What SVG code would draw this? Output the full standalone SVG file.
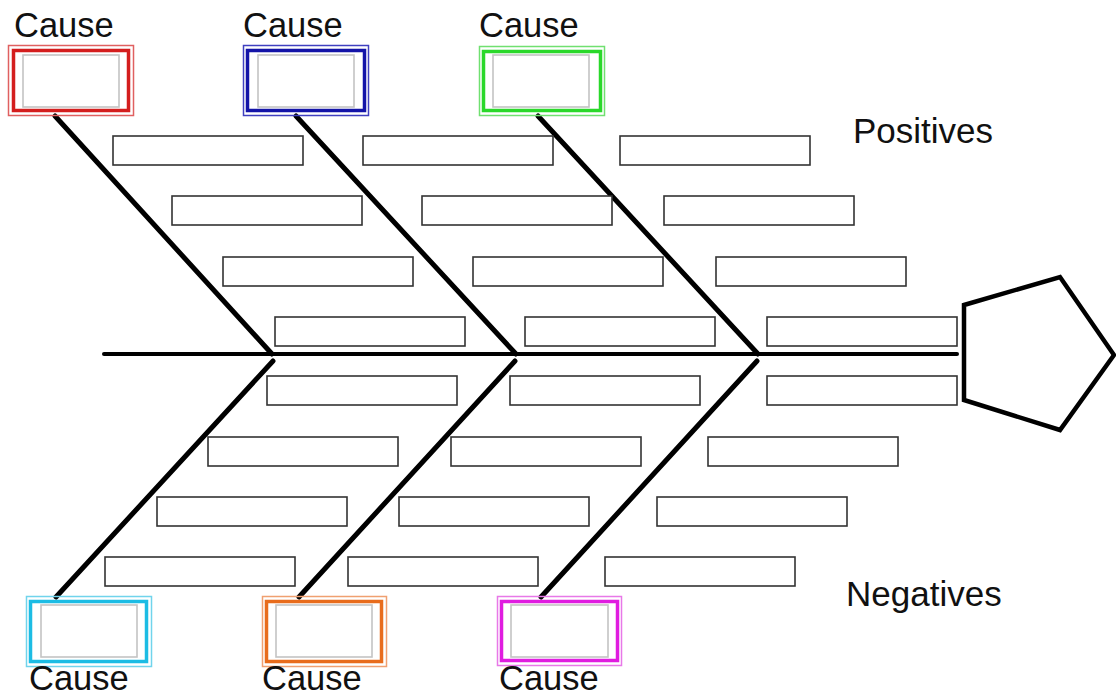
<svg xmlns="http://www.w3.org/2000/svg" width="1116" height="695" viewBox="0 0 1116 695">
<style>
.t{font-family:"Liberation Sans",Arial,sans-serif;fill:#111;}
.c{font-size:34.5px;}
.l{font-size:35px;}
.b{fill:#fff;stroke:#333;stroke-width:1.6;}
.bone{stroke:#000;stroke-width:5;stroke-linecap:round;fill:none;}
.g{fill:#fff;stroke:#c4c4c4;stroke-width:1.6;}
.o{fill:none;stroke-width:1.5;}
.i{fill:none;stroke-width:3.5;}
</style>
<rect width="1116" height="695" fill="#fff"/>
<g id="connectors">
<line class="bone" x1="104" y1="354" x2="957" y2="354" style="stroke-width:4"/>
<line class="bone" x1="55" y1="116" x2="272" y2="354"/>
<line class="bone" x1="296" y1="116" x2="516" y2="354"/>
<line class="bone" x1="538" y1="116" x2="758" y2="354"/>
<line class="bone" x1="273" y1="361" x2="56" y2="597"/>
<line class="bone" x1="515" y1="361" x2="299" y2="597"/>
<line class="bone" x1="757" y1="361" x2="541" y2="597"/>
</g>
<g id="sub-boxes">
<rect class="b" x="113" y="136" width="190" height="29"/>
<rect class="b" x="363" y="136" width="190" height="29"/>
<rect class="b" x="620" y="136" width="190" height="29"/>
<rect class="b" x="172" y="196" width="190" height="29"/>
<rect class="b" x="422" y="196" width="190" height="29"/>
<rect class="b" x="664" y="196" width="190" height="29"/>
<rect class="b" x="223" y="257" width="190" height="29"/>
<rect class="b" x="473" y="257" width="190" height="29"/>
<rect class="b" x="716" y="257" width="190" height="29"/>
<rect class="b" x="275" y="317" width="190" height="29"/>
<rect class="b" x="525" y="317" width="190" height="29"/>
<rect class="b" x="767" y="317" width="190" height="29"/>
<rect class="b" x="267" y="376" width="190" height="29"/>
<rect class="b" x="510" y="376" width="190" height="29"/>
<rect class="b" x="767" y="376" width="190" height="29"/>
<rect class="b" x="208" y="437" width="190" height="29"/>
<rect class="b" x="451" y="437" width="190" height="29"/>
<rect class="b" x="708" y="437" width="190" height="29"/>
<rect class="b" x="157" y="497" width="190" height="29"/>
<rect class="b" x="399" y="497" width="190" height="29"/>
<rect class="b" x="657" y="497" width="190" height="29"/>
<rect class="b" x="105" y="557" width="190" height="29"/>
<rect class="b" x="348" y="557" width="190" height="29"/>
<rect class="b" x="605" y="557" width="190" height="29"/>
</g>
<g id="cause-red">
<text class="t c" x="14" y="37">Cause</text>
<rect class="o" x="8.5" y="45.5" width="125" height="70" stroke="#e06060"/>
<rect class="i" x="13.5" y="50.5" width="115" height="60" stroke="#d41e1e"/>
<rect class="g" x="23" y="55" width="96" height="52"/>
</g>
<g id="cause-blue">
<text class="t c" x="243" y="37">Cause</text>
<rect class="o" x="243.5" y="45.5" width="125" height="70" stroke="#4040c0"/>
<rect class="i" x="247.5" y="50.5" width="117" height="60" stroke="#1414a8"/>
<rect class="g" x="258" y="55" width="96" height="52"/>
</g>
<g id="cause-green">
<text class="t c" x="479" y="37">Cause</text>
<rect class="o" x="479.5" y="46.5" width="125" height="69" stroke="#70e070"/>
<rect class="i" x="483.5" y="51.5" width="117" height="59" stroke="#2ad82a"/>
<rect class="g" x="493" y="55" width="96" height="52"/>
</g>
<g id="cause-cyan">
<rect class="o" x="26.5" y="596.5" width="125" height="70" stroke="#70d4ec"/>
<rect class="i" x="30.5" y="601.5" width="116" height="60" stroke="#1cbce4"/>
<rect class="g" x="41" y="605" width="96" height="52"/>
<text class="t c" x="29" y="690">Cause</text>
</g>
<g id="cause-orange">
<rect class="o" x="262.5" y="596.5" width="124" height="70" stroke="#f0a070"/>
<rect class="i" x="266.5" y="601.5" width="115" height="60" stroke="#e86c1c"/>
<rect class="g" x="276" y="605" width="96" height="52"/>
<text class="t c" x="262" y="690">Cause</text>
</g>
<g id="cause-magenta">
<rect class="o" x="497.5" y="596.5" width="124" height="69" stroke="#e878e8"/>
<rect class="i" x="501.5" y="601.5" width="116" height="59" stroke="#e01ce0"/>
<rect class="g" x="511" y="605" width="97" height="52"/>
<text class="t c" x="499" y="690">Cause</text>
</g>
<g id="labels">
<text class="t l" x="853" y="143">Positives</text>
<text class="t l" x="846" y="606">Negatives</text>
</g>
<g id="effect">
<polygon points="964,305 1060,277 1114,355 1060,430 964,400" fill="#fff" stroke="#000" stroke-width="4.5" stroke-linejoin="miter"/>
</g>
</svg>
